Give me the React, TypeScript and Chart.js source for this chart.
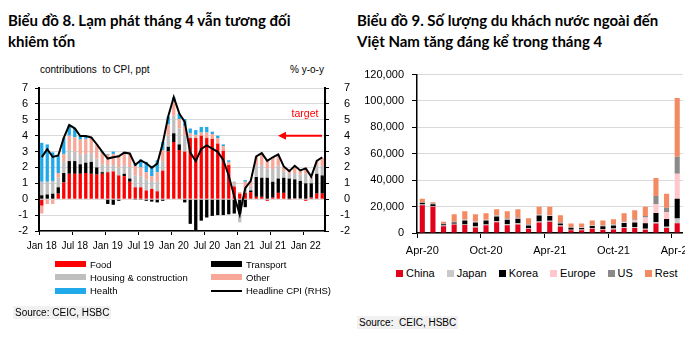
import React, { useEffect, useRef } from 'react';
import { Chart, registerables } from 'chart.js';

Chart.register(...registerables);

// ---------------- Chart 8: CPI contributions ----------------
const cpiMonths = [
  'Jan 18', 'Feb 18', 'Mar 18', 'Apr 18', 'May 18', 'Jun 18', 'Jul 18', 'Aug 18', 'Sep 18', 'Oct 18', 'Nov 18', 'Dec 18',
  'Jan 19', 'Feb 19', 'Mar 19', 'Apr 19', 'May 19', 'Jun 19', 'Jul 19', 'Aug 19', 'Sep 19', 'Oct 19', 'Nov 19', 'Dec 19',
  'Jan 20', 'Feb 20', 'Mar 20', 'Apr 20', 'May 20', 'Jun 20', 'Jul 20', 'Aug 20', 'Sep 20', 'Oct 20', 'Nov 20', 'Dec 20',
  'Jan 21', 'Feb 21', 'Mar 21', 'Apr 21', 'May 21', 'Jun 21', 'Jul 21', 'Aug 21', 'Sep 21', 'Oct 21', 'Nov 21', 'Dec 21',
  'Jan 22', 'Feb 22', 'Mar 22', 'Apr 22',
];
const cpiTickLabels = ['Jan 18', 'Jul 18', 'Jan 19', 'Jul 19', 'Jan 20', 'Jul 20', 'Jan 21', 'Jul 21', 'Jan 22'];

const food = [
  -0.4, 0.0, 0.0, 0.35, 1.05, 1.6, 1.6, 1.6, 1.65, 1.6, 1.55, 1.6,
  1.7, 1.75, 1.5, 1.45, 1.1, 0.75, 0.75, 0.55, 0.65, 0.5, 1.8, 3.0,
  3.6, 3.1, 3.0, 3.85, 3.85, 4.0, 3.85, 3.8, 3.5, 3.05, 2.15, 0.8,
  0.35, 0.4, 0.45, 0.15, 0.15, -0.1, 0.1, 0.4, 0.4, -0.05, 0.05, 0.05,
  -0.1, 0.1, 0.35, 0.35,
];
const transport = [
  0.25, 0.3, 0.35, 0.4, 0.6, 0.8, 0.8, 0.6, 0.65, 0.75, 0.45, 0.1,
  -0.3, -0.35, -0.1, 0.15, 0.2, -0.05, -0.05, -0.1, -0.15, -0.2, -0.1, 0.3,
  0.55, 0.35, -0.2, -1.55, -1.95, -1.35, -1.15, -1.05, -1.0, -1.0, -0.95, -0.9,
  -0.9, -0.5, 0.1, 1.25, 1.2, 1.35, 1.0, 0.9, 0.95, 1.3, 1.2, 1.1,
  1.0, 0.9, 1.25, 1.15,
];
const housing = [
  0.85, 0.8, 0.8, 0.6, 0.7, 0.7, 0.6, 0.6, 0.55, 0.55, 0.55, 0.5,
  0.45, 0.4, 0.5, 0.55, 0.7, 0.75, 0.7, 0.7, 0.5, 0.6, 0.6, 0.7,
  1.1, 1.0, 1.0, 0.1, 0.0, 0.0, 0.0, 0.0, 0.0, 0.0, 0.0, 0.15,
  -0.55, 0.3, 0.3, 0.7, 0.8, 0.6, 0.8, 0.8, 0.4, 0.3, 0.4, 0.4,
  0.6, 0.3, 0.5, 0.6,
];
const other = [
  -0.5, -0.3, -0.3, 0.3, 0.5, 0.9, 0.9, 0.95, 0.95, 0.95, 0.9, 0.75,
  0.65, 0.7, 0.8, 0.8, 0.9, 0.6, 0.55, 0.45, 0.3, 0.6, 0.7, 0.7,
  0.9, 0.6, 0.6, 0.2, 0.2, 0.2, 0.35, 0.3, 0.35, 0.3, 0.2, 0.1,
  0.1, 0.4, 0.3, 0.6, 0.75, 0.55, 0.7, 0.7, 0.3, 0.2, 0.35, 0.25,
  0.4, 0.1, 0.3, 0.5,
];
const health = [
  2.45, 2.35, 1.8, 1.1, 1.0, 0.65, 0.55, 0.25, 0.15, 0.05, 0.0, 0.05,
  0.05, 0.15, 0.0, 0.0, 0.0, 0.1, 0.5, 0.65, 0.65, 0.75, 0.5, 0.5,
  0.25, 0.35, 0.45, 0.3, 0.3, 0.35, 0.35, 0.15, 0.15, 0.1, 0.1, 0.05,
  0.0, 0.1, 0.0, 0.0, 0.0, 0.0, 0.0, 0.0, 0.0, 0.0, 0.1, 0.0,
  0.0, 0.0, 0.0, 0.0,
];
const headlineCPI = [
  2.65, 3.15, 2.66, 2.75, 3.86, 4.67, 4.46, 3.98, 3.98, 3.89, 3.46, 2.98,
  2.56, 2.64, 2.70, 2.93, 2.88, 2.16, 2.44, 2.26, 1.98, 2.24, 3.52, 5.23,
  6.43, 5.40, 4.87, 2.93, 2.40, 3.17, 3.39, 3.18, 2.98, 2.47, 1.48, 0.19,
  -0.97, 0.70, 1.16, 2.70, 2.90, 2.41, 2.64, 2.82, 2.06, 1.77, 2.10, 1.81,
  1.94, 1.42, 2.41, 2.64,
];
const cpiTarget = 4;

// ---------------- Chart 9: foreign visitors ----------------
const visitorMonths = [
  'Apr-20', 'May-20', 'Jun-20', 'Jul-20', 'Aug-20', 'Sep-20', 'Oct-20', 'Nov-20', 'Dec-20',
  'Jan-21', 'Feb-21', 'Mar-21', 'Apr-21', 'May-21', 'Jun-21', 'Jul-21', 'Aug-21', 'Sep-21',
  'Oct-21', 'Nov-21', 'Dec-21', 'Jan-22', 'Feb-22', 'Mar-22', 'Apr-22',
];
const visitorTickLabels = ['Apr-20', 'Oct-20', 'Apr-21', 'Oct-21', 'Apr-22'];
const china = [21000, 19800, 5200, 6500, 6000, 4200, 5800, 8200, 5800, 6500, 3200, 8000, 8500, 5000, 2000, 2000, 3200, 2500, 2700, 3700, 3700, 2500, 7200, 3700, 7300];
const japan = [500, 500, 500, 500, 500, 800, 700, 800, 800, 800, 500, 800, 800, 700, 500, 600, 600, 600, 700, 800, 800, 800, 1000, 1000, 3700];
const korea = [1500, 1500, 1000, 1000, 3000, 3000, 3000, 3500, 3500, 3500, 2000, 4500, 3500, 1500, 1500, 1200, 1500, 2000, 2300, 3000, 3500, 4000, 7000, 6000, 15000];
const europe = [300, 200, 200, 300, 500, 500, 500, 500, 500, 500, 400, 500, 500, 400, 300, 300, 400, 400, 500, 1000, 1500, 4500, 6500, 5300, 18800];
const us = [200, 300, 200, 300, 300, 300, 300, 400, 400, 400, 300, 400, 400, 300, 300, 400, 400, 400, 400, 500, 700, 1000, 6300, 3200, 12900];
const rest = [2500, 1000, 1400, 5600, 6200, 5400, 4700, 4600, 5500, 6300, 4800, 5600, 6100, 5600, 2600, 2700, 3400, 3600, 3900, 6000, 7000, 7000, 13700, 10500, 44500];

const FONT = "'Liberation Sans', Arial, sans-serif";
const TITLE_FONT = "Lato, 'Noto Sans', sans-serif";

const cpiSeries = [
  { name: 'Food', data: food, color: '#ff0000' },
  { name: 'Transport', data: transport, color: '#000000' },
  { name: 'Housing & construction', data: housing, color: '#bfbfbf' },
  { name: 'Other', data: other, color: '#f8a899' },
  { name: 'Health', data: health, color: '#20aaea' },
];

const visitorSeries = [
  { name: 'China', data: china, color: '#e3001b' },
  { name: 'Japan', data: japan, color: '#c9c9c9' },
  { name: 'Korea', data: korea, color: '#000000' },
  { name: 'Europe', data: europe, color: '#ffc6cc' },
  { name: 'US', data: us, color: '#8a8a8a' },
  { name: 'Rest', data: rest, color: '#f48a62' },
];

const targetPlugin = {
  id: 'cpiTarget',
  afterDatasetsDraw(chart: any) {
    const { ctx, chartArea, scales } = chart;
    const y = scales.y1.getPixelForValue(cpiTarget);
    const xr = chartArea.right - 3;
    const xl = chartArea.right - 47;
    ctx.save();
    ctx.strokeStyle = '#ff0000';
    ctx.fillStyle = '#ff0000';
    ctx.lineWidth = 2;
    ctx.beginPath();
    ctx.moveTo(xr, y);
    ctx.lineTo(xl + 6, y);
    ctx.stroke();
    ctx.beginPath();
    ctx.moveTo(xl, y);
    ctx.lineTo(xl + 8, y - 4);
    ctx.lineTo(xl + 8, y + 4);
    ctx.closePath();
    ctx.fill();
    ctx.font = `10.5px ${FONT}`;
    ctx.textAlign = 'center';
    ctx.textBaseline = 'middle';
    ctx.fillText('target', chartArea.right - 20, scales.y1.getPixelForValue(5.35));
    ctx.restore();
  },
};

function cpiConfig(): any {
  const showIdx = (i: number) => cpiTickLabels.includes(cpiMonths[i]);
  return {
    type: 'bar',
    data: {
      labels: cpiMonths,
      datasets: [
        {
          type: 'line',
          label: 'Headline CPI (RHS)',
          data: headlineCPI,
          yAxisID: 'y1',
          borderColor: '#000000',
          borderWidth: 2,
          pointRadius: 0,
          tension: 0,
          order: 0,
        },
        ...cpiSeries.map((s) => ({
          label: s.name,
          data: s.data,
          backgroundColor: s.color,
          yAxisID: 'y',
          stack: 'cpi',
          order: 1,
          barPercentage: 0.6,
          categoryPercentage: 1,
        })),
      ],
    },
    options: {
      animation: false,
      responsive: false,
      maintainAspectRatio: false,
      layout: { padding: { top: 28, left: 0, right: 0, bottom: 0 } },
      plugins: { legend: { display: false }, tooltip: { enabled: false } },
      scales: {
        x: {
          stacked: true,
          grid: {
            offset: true,
            drawOnChartArea: false,
            tickLength: 4,
            tickColor: (c: any) => (showIdx(c.index) ? '#000' : 'rgba(0,0,0,0)'),
          },
          border: { color: '#000', width: 1.5 },
          ticks: {
            autoSkip: false,
            maxRotation: 0,
            minRotation: 0,
            padding: 5,
            color: '#000',
            font: { family: FONT, size: 10 },
            callback: (_v: any, i: number) => (showIdx(i) ? cpiMonths[i] : ''),
          },
          afterFit: (s: any) => { s.height = 29; },
        },
        y: {
          stacked: true,
          position: 'left',
          min: -2,
          max: 7,
          ticks: { stepSize: 1, autoSkip: false, color: '#000', padding: 7, font: { family: FONT, size: 11 } },
          grid: { color: '#d9d9d9', tickColor: '#000', tickLength: 4 },
          border: { color: '#000', width: 2 },
          afterFit: (s: any) => { s.width = 39; },
        },
        y1: {
          position: 'right',
          min: -2,
          max: 7,
          ticks: { stepSize: 1, autoSkip: false, color: '#000', padding: 0, crossAlign: 'far', font: { family: FONT, size: 11 } },
          grid: { drawOnChartArea: false, tickColor: '#000', tickLength: 4 },
          border: { color: '#000', width: 2 },
          afterFit: (s: any) => { s.width = 25; },
        },
      },
    },
    plugins: [targetPlugin],
  };
}

function visitorConfig(): any {
  const showIdx = (i: number) => visitorTickLabels.includes(visitorMonths[i]);
  return {
    type: 'bar',
    data: {
      labels: visitorMonths,
      datasets: visitorSeries.map((s) => ({
        label: s.name,
        data: s.data,
        backgroundColor: s.color,
        stack: 'v',
        barPercentage: 0.48,
        categoryPercentage: 1,
      })),
    },
    options: {
      animation: false,
      responsive: false,
      maintainAspectRatio: false,
      layout: { padding: { top: 13, left: 0, right: 14, bottom: 0 } },
      plugins: { legend: { display: false }, tooltip: { enabled: false } },
      scales: {
        x: {
          stacked: true,
          grid: {
            offset: true,
            drawOnChartArea: false,
            tickLength: 5,
            tickColor: (c: any) => (showIdx(c.index) ? '#000' : 'rgba(0,0,0,0)'),
          },
          border: { color: '#000', width: 1.5 },
          ticks: {
            autoSkip: false,
            maxRotation: 0,
            minRotation: 0,
            padding: 6,
            color: '#000',
            font: { family: FONT, size: 11 },
            callback: (_v: any, i: number) => (showIdx(i) ? visitorMonths[i] : ''),
          },
          afterFit: (s: any) => { s.height = 27; },
        },
        y: {
          stacked: true,
          min: 0,
          max: 120000,
          ticks: {
            stepSize: 20000,
            autoSkip: false,
            color: '#000',
            padding: 8,
            font: { family: FONT, size: 11 },
            callback: (v: any) => Number(v).toLocaleString('en-US'),
          },
          grid: { color: '#d9d9d9', tickColor: '#000', tickLength: 5 },
          border: { color: '#000', width: 1.5 },
          afterFit: (s: any) => { s.width = 67; },
        },
      },
    },
  };
}

function ChartCanvas({ make, width, height }: { make: () => any; width: number; height: number }) {
  const ref = useRef<HTMLCanvasElement | null>(null);
  useEffect(() => {
    const chart = new Chart(ref.current as HTMLCanvasElement, make());
    return () => chart.destroy();
  }, []);
  return <canvas ref={ref} width={width} height={height} style={{ display: 'block', width, height }} />;
}

const abs = (left: number, top: number, extra: any = {}) => ({ position: 'absolute' as const, left, top, ...extra });

export default function App() {
  const titleStyle = {
    fontFamily: TITLE_FONT,
    fontWeight: 700,
    fontSize: 15,
    lineHeight: '21px',
    color: '#000',
    whiteSpace: 'nowrap' as const,
  };
  const small = { fontFamily: FONT, fontSize: 10, color: '#000', whiteSpace: 'nowrap' as const };
  const legendRow = (y: number) => y - 6;
  const leftLegend = [
    { name: 'Food', color: '#ff0000', x: 55, y: 264 },
    { name: 'Transport', color: '#000000', x: 211, y: 264 },
    { name: 'Housing & construction', color: '#bfbfbf', x: 55, y: 277 },
    { name: 'Other', color: '#f8a899', x: 211, y: 277 },
    { name: 'Health', color: '#20aaea', x: 55, y: 290.5 },
  ];
  return (
    <div style={{ position: 'fixed', left: 0, top: 0, width: 700, height: 351, background: '#fff', overflow: 'hidden' }}>
      {/* Left panel */}
      <div style={abs(8, 10, titleStyle)}>
        Biểu đồ 8. Lạm phát tháng 4 vẫn tương đối
        <br />
        khiêm tốn
      </div>
      <div style={abs(40, 64, small)}>contributions&nbsp; to CPI, ppt</div>
      <div style={abs(290, 64, small)}>% y-o-y</div>
      <div style={abs(0, 60)}>
        <ChartCanvas make={cpiConfig} width={350} height={200} />
      </div>
      {leftLegend.map((l) => (
        <div key={l.name} style={abs(l.x, legendRow(l.y), { ...small, fontSize: 9.5, height: 12, display: 'flex', alignItems: 'center' })}>
          <span style={{ display: 'inline-block', width: 31, height: 6, background: l.color, marginRight: 4 }} />
          {l.name}
        </div>
      ))}
      <div style={abs(211, legendRow(290.5), { ...small, fontSize: 9.5, height: 12, display: 'flex', alignItems: 'center' })}>
        <span style={{ display: 'inline-block', width: 31, height: 2, background: '#000', marginRight: 4 }} />
        Headline CPI (RHS)
      </div>
      <div style={abs(13, 306, { ...small, background: '#f1f1f1', padding: '0 2px', lineHeight: '13px' })}>Source: CEIC, HSBC</div>

      {/* Right panel */}
      <div style={abs(357, 10, titleStyle)}>
        Biểu đồ 9. Số lượng du khách nước ngoài đến
        <br />
        Việt Nam tăng đáng kể trong tháng 4
      </div>
      <div style={abs(350, 60, { width: 335, height: 200, overflow: 'hidden' })}>
        <ChartCanvas make={visitorConfig} width={350} height={200} />
      </div>
      <div style={abs(396, 266, { ...small, fontSize: 11, display: 'flex', alignItems: 'center', height: 14 })}>
        {visitorSeries.map((s) => (
          <span key={s.name} style={{ display: 'inline-flex', alignItems: 'center', marginRight: 12 }}>
            <span style={{ display: 'inline-block', width: 7, height: 7, background: s.color, marginRight: 3 }} />
            {s.name}
          </span>
        ))}
      </div>
      <div style={abs(357, 316, { ...small, background: '#f1f1f1', padding: '0 2px', lineHeight: '13px' })}>Source:&nbsp; CEIC, HSBC</div>
    </div>
  );
}
